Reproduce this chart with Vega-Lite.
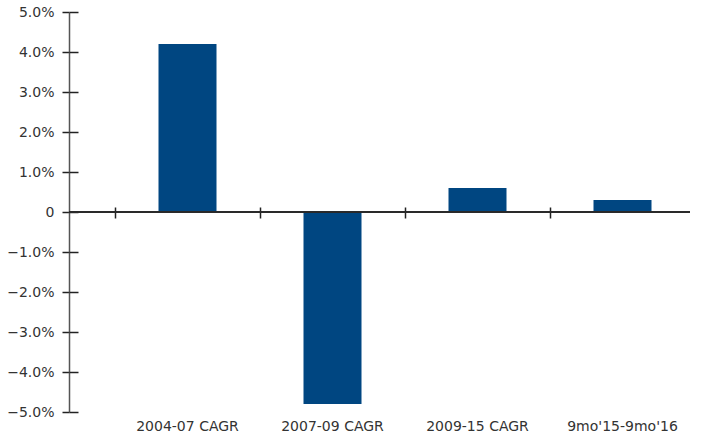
{
  "$schema": "https://vega.github.io/schema/vega-lite/v6.json",
  "width": 621,
  "height": 400,
  "padding": {"left": 69, "top": 12, "right": 11, "bottom": 22},
  "autosize": {"type": "none"},
  "background": "white",
  "config": {
    "view": {"stroke": null},
    "axis": {"labelFont": "DejaVu Sans", "labelFontSize": 14, "labelColor": "#333333", "grid": false}
  },
  "data": {
    "values": [
      {"period": "2004-07 CAGR", "value": 0.042},
      {"period": "2007-09 CAGR", "value": -0.048},
      {"period": "2009-15 CAGR", "value": 0.006},
      {"period": "9mo'15-9mo'16", "value": 0.003}
    ]
  },
  "layer": [
    {
      "mark": {"type": "bar", "color": "#004681"},
      "encoding": {
        "x": {
          "field": "period", "type": "nominal", "sort": null,
          "scale": {"range": [46, 626], "paddingInner": 0.6, "paddingOuter": 0.3},
          "axis": {"orient": "bottom", "title": null, "domain": false, "ticks": false, "labelAngle": 0, "labelPadding": 7}
        },
        "y": {
          "field": "value", "type": "quantitative",
          "scale": {"domain": [-0.05, 0.05], "nice": false, "zero": false},
          "axis": {
            "orient": "left", "title": null,
            "values": [-0.05, -0.04, -0.03, -0.02, -0.01, 0, 0.01, 0.02, 0.03, 0.04, 0.05],
            "labelExpr": "datum.value == 0 ? '0' : format(datum.value, '.1%')",
            "domain": true, "domainColor": "#555555", "domainWidth": 1.5,
            "ticks": true, "tickSize": 7, "tickColor": "#222222", "tickWidth": 1.5,
            "labelPadding": 8
          }
        }
      }
    },
    {
      "mark": {"type": "rule", "color": "#2a2a2a", "strokeWidth": 1.6},
      "encoding": {
        "y": {"datum": 0, "type": "quantitative", "axis": null}
      }
    },
    {
      "mark": {"type": "bar", "opacity": 0},
      "encoding": {
        "x": {
          "field": "period", "type": "nominal", "sort": null,
          "scale": {"range": [46, 626], "paddingInner": 0.6, "paddingOuter": 0.3},
          "axis": {
            "orient": "top", "title": null, "offset": -206, "labels": false, "domain": false,
            "ticks": true, "tickOffset": -72.5, "tickSize": 11, "tickColor": "#222222", "tickWidth": 1.5
          }
        },
        "y": {
          "field": "value", "type": "quantitative",
          "scale": {"domain": [-0.05, 0.05], "nice": false, "zero": false},
          "axis": {
            "orient": "left", "title": null, "offset": -9, "labels": false, "domain": false,
            "values": [-0.05, -0.04, -0.03, -0.02, -0.01, 0, 0.01, 0.02, 0.03, 0.04, 0.05],
            "ticks": true, "tickSize": 9, "tickColor": "#222222", "tickWidth": 1.5
          }
        }
      }
    }
  ],
  "resolve": {"axis": {"x": "independent", "y": "independent"}}
}
